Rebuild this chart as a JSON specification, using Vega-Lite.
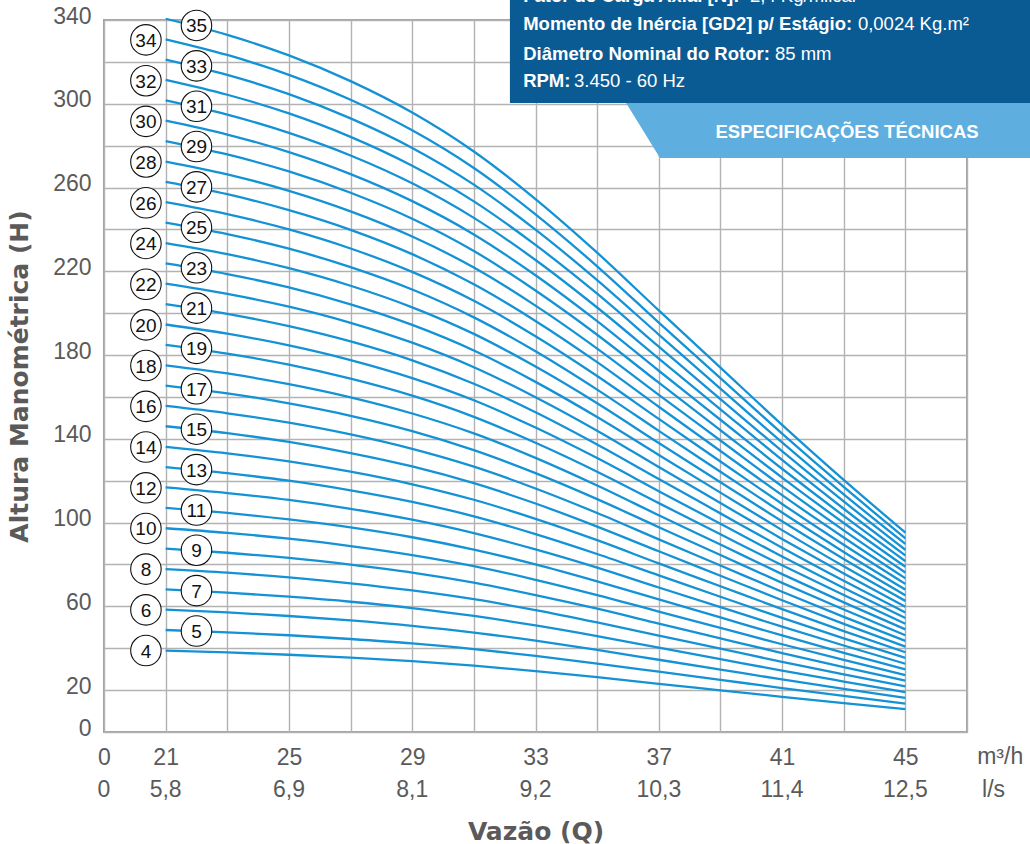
{
  "$schema": "https://vega.github.io/schema/vega-lite/v6.json",
  "width": 863,
  "height": 712,
  "autosize": "none",
  "padding": {"left": 104, "top": 20, "right": 63, "bottom": 112},
  "background": "white",
  "config": {
    "view": {"stroke": "#a3a3a3", "strokeWidth": 2},
    "axis": {"gridColor": "#b2b2b2", "gridWidth": 1.4, "gridOpacity": 1, "domain": false, "ticks": false}
  },
  "layer": [
    {
      "data": {"values": [
        {"s":4,"q":21,"h":38.9},{"s":4,"q":23,"h":38.0},{"s":4,"q":25,"h":36.9},{"s":4,"q":27,"h":35.5},{"s":4,"q":29,"h":33.8},{"s":4,"q":31,"h":31.7},{"s":4,"q":33,"h":29.1},{"s":4,"q":35,"h":26.2},{"s":4,"q":37,"h":23.0},{"s":4,"q":39,"h":19.9},{"s":4,"q":41,"h":16.8},{"s":4,"q":43,"h":13.8},{"s":4,"q":45,"h":10.9},
        {"s":5,"q":21,"h":48.7},{"s":5,"q":23,"h":47.6},{"s":5,"q":25,"h":46.2},{"s":5,"q":27,"h":44.4},{"s":5,"q":29,"h":42.3},{"s":5,"q":31,"h":39.6},{"s":5,"q":33,"h":36.4},{"s":5,"q":35,"h":32.7},{"s":5,"q":37,"h":28.8},{"s":5,"q":39,"h":24.9},{"s":5,"q":41,"h":21.0},{"s":5,"q":43,"h":17.2},{"s":5,"q":45,"h":13.6},
        {"s":6,"q":21,"h":58.4},{"s":6,"q":23,"h":57.1},{"s":6,"q":25,"h":55.4},{"s":6,"q":27,"h":53.3},{"s":6,"q":29,"h":50.7},{"s":6,"q":31,"h":47.5},{"s":6,"q":33,"h":43.6},{"s":6,"q":35,"h":39.2},{"s":6,"q":37,"h":34.5},{"s":6,"q":39,"h":29.8},{"s":6,"q":41,"h":25.1},{"s":6,"q":43,"h":20.6},{"s":6,"q":45,"h":16.3},
        {"s":7,"q":21,"h":68.1},{"s":7,"q":23,"h":66.6},{"s":7,"q":25,"h":64.6},{"s":7,"q":27,"h":62.2},{"s":7,"q":29,"h":59.2},{"s":7,"q":31,"h":55.4},{"s":7,"q":33,"h":50.9},{"s":7,"q":35,"h":45.8},{"s":7,"q":37,"h":40.3},{"s":7,"q":39,"h":34.8},{"s":7,"q":41,"h":29.3},{"s":7,"q":43,"h":24.1},{"s":7,"q":45,"h":19.0},
        {"s":8,"q":21,"h":77.8},{"s":8,"q":23,"h":76.1},{"s":8,"q":25,"h":73.8},{"s":8,"q":27,"h":71.0},{"s":8,"q":29,"h":67.6},{"s":8,"q":31,"h":63.4},{"s":8,"q":33,"h":58.2},{"s":8,"q":35,"h":52.3},{"s":8,"q":37,"h":46.0},{"s":8,"q":39,"h":39.8},{"s":8,"q":41,"h":33.5},{"s":8,"q":43,"h":27.5},{"s":8,"q":45,"h":21.8},
        {"s":9,"q":21,"h":87.6},{"s":9,"q":23,"h":85.6},{"s":9,"q":25,"h":83.1},{"s":9,"q":27,"h":79.9},{"s":9,"q":29,"h":76.1},{"s":9,"q":31,"h":71.3},{"s":9,"q":33,"h":65.4},{"s":9,"q":35,"h":58.9},{"s":9,"q":37,"h":51.8},{"s":9,"q":39,"h":44.7},{"s":9,"q":41,"h":37.7},{"s":9,"q":43,"h":31.0},{"s":9,"q":45,"h":24.5},
        {"s":10,"q":21,"h":97.3},{"s":10,"q":23,"h":95.1},{"s":10,"q":25,"h":92.3},{"s":10,"q":27,"h":88.8},{"s":10,"q":29,"h":84.5},{"s":10,"q":31,"h":79.2},{"s":10,"q":33,"h":72.7},{"s":10,"q":35,"h":65.4},{"s":10,"q":37,"h":57.5},{"s":10,"q":39,"h":49.7},{"s":10,"q":41,"h":41.9},{"s":10,"q":43,"h":34.4},{"s":10,"q":45,"h":27.2},
        {"s":11,"q":21,"h":107.0},{"s":11,"q":23,"h":104.6},{"s":11,"q":25,"h":101.5},{"s":11,"q":27,"h":97.7},{"s":11,"q":29,"h":93.0},{"s":11,"q":31,"h":87.1},{"s":11,"q":33,"h":80.0},{"s":11,"q":35,"h":71.9},{"s":11,"q":37,"h":63.3},{"s":11,"q":39,"h":54.7},{"s":11,"q":41,"h":46.1},{"s":11,"q":43,"h":37.8},{"s":11,"q":45,"h":29.9},
        {"s":12,"q":21,"h":116.8},{"s":12,"q":23,"h":114.1},{"s":12,"q":25,"h":110.8},{"s":12,"q":27,"h":106.6},{"s":12,"q":29,"h":101.4},{"s":12,"q":31,"h":95.0},{"s":12,"q":33,"h":87.2},{"s":12,"q":35,"h":78.5},{"s":12,"q":37,"h":69.0},{"s":12,"q":39,"h":59.6},{"s":12,"q":41,"h":50.3},{"s":12,"q":43,"h":41.3},{"s":12,"q":45,"h":32.6},
        {"s":13,"q":21,"h":126.5},{"s":13,"q":23,"h":123.6},{"s":13,"q":25,"h":120.0},{"s":13,"q":27,"h":115.4},{"s":13,"q":29,"h":109.9},{"s":13,"q":31,"h":103.0},{"s":13,"q":33,"h":94.5},{"s":13,"q":35,"h":85.0},{"s":13,"q":37,"h":74.8},{"s":13,"q":39,"h":64.6},{"s":13,"q":41,"h":54.5},{"s":13,"q":43,"h":44.7},{"s":13,"q":45,"h":35.4},
        {"s":14,"q":21,"h":136.2},{"s":14,"q":23,"h":133.1},{"s":14,"q":25,"h":129.2},{"s":14,"q":27,"h":124.3},{"s":14,"q":29,"h":118.3},{"s":14,"q":31,"h":110.9},{"s":14,"q":33,"h":101.8},{"s":14,"q":35,"h":91.6},{"s":14,"q":37,"h":80.5},{"s":14,"q":39,"h":69.6},{"s":14,"q":41,"h":58.7},{"s":14,"q":43,"h":48.2},{"s":14,"q":45,"h":38.1},
        {"s":15,"q":21,"h":146.0},{"s":15,"q":23,"h":142.7},{"s":15,"q":25,"h":138.5},{"s":15,"q":27,"h":133.2},{"s":15,"q":29,"h":126.8},{"s":15,"q":31,"h":118.8},{"s":15,"q":33,"h":109.1},{"s":15,"q":35,"h":98.1},{"s":15,"q":37,"h":86.3},{"s":15,"q":39,"h":74.6},{"s":15,"q":41,"h":62.9},{"s":15,"q":43,"h":51.6},{"s":15,"q":45,"h":40.8},
        {"s":16,"q":21,"h":155.7},{"s":16,"q":23,"h":152.2},{"s":16,"q":25,"h":147.7},{"s":16,"q":27,"h":142.1},{"s":16,"q":29,"h":135.2},{"s":16,"q":31,"h":126.7},{"s":16,"q":33,"h":116.3},{"s":16,"q":35,"h":104.6},{"s":16,"q":37,"h":92.0},{"s":16,"q":39,"h":79.5},{"s":16,"q":41,"h":67.0},{"s":16,"q":43,"h":55.0},{"s":16,"q":45,"h":43.5},
        {"s":17,"q":21,"h":165.4},{"s":17,"q":23,"h":161.7},{"s":17,"q":25,"h":156.9},{"s":17,"q":27,"h":151.0},{"s":17,"q":29,"h":143.7},{"s":17,"q":31,"h":134.6},{"s":17,"q":33,"h":123.6},{"s":17,"q":35,"h":111.2},{"s":17,"q":37,"h":97.8},{"s":17,"q":39,"h":84.5},{"s":17,"q":41,"h":71.2},{"s":17,"q":43,"h":58.5},{"s":17,"q":45,"h":46.2},
        {"s":18,"q":21,"h":175.1},{"s":18,"q":23,"h":171.2},{"s":18,"q":25,"h":166.1},{"s":18,"q":27,"h":159.8},{"s":18,"q":29,"h":152.1},{"s":18,"q":31,"h":142.6},{"s":18,"q":33,"h":130.9},{"s":18,"q":35,"h":117.7},{"s":18,"q":37,"h":103.5},{"s":18,"q":39,"h":89.5},{"s":18,"q":41,"h":75.4},{"s":18,"q":43,"h":61.9},{"s":18,"q":45,"h":49.0},
        {"s":19,"q":21,"h":184.9},{"s":19,"q":23,"h":180.7},{"s":19,"q":25,"h":175.4},{"s":19,"q":27,"h":168.7},{"s":19,"q":29,"h":160.6},{"s":19,"q":31,"h":150.5},{"s":19,"q":33,"h":138.1},{"s":19,"q":35,"h":124.3},{"s":19,"q":37,"h":109.3},{"s":19,"q":39,"h":94.4},{"s":19,"q":41,"h":79.6},{"s":19,"q":43,"h":65.4},{"s":19,"q":45,"h":51.7},
        {"s":20,"q":21,"h":194.6},{"s":20,"q":23,"h":190.2},{"s":20,"q":25,"h":184.6},{"s":20,"q":27,"h":177.6},{"s":20,"q":29,"h":169.0},{"s":20,"q":31,"h":158.4},{"s":20,"q":33,"h":145.4},{"s":20,"q":35,"h":130.8},{"s":20,"q":37,"h":115.0},{"s":20,"q":39,"h":99.4},{"s":20,"q":41,"h":83.8},{"s":20,"q":43,"h":68.8},{"s":20,"q":45,"h":54.4},
        {"s":21,"q":21,"h":204.3},{"s":21,"q":23,"h":199.7},{"s":21,"q":25,"h":193.8},{"s":21,"q":27,"h":186.5},{"s":21,"q":29,"h":177.5},{"s":21,"q":31,"h":166.3},{"s":21,"q":33,"h":152.7},{"s":21,"q":35,"h":137.3},{"s":21,"q":37,"h":120.8},{"s":21,"q":39,"h":104.4},{"s":21,"q":41,"h":88.0},{"s":21,"q":43,"h":72.2},{"s":21,"q":45,"h":57.1},
        {"s":22,"q":21,"h":214.1},{"s":22,"q":23,"h":209.2},{"s":22,"q":25,"h":203.1},{"s":22,"q":27,"h":195.4},{"s":22,"q":29,"h":185.9},{"s":22,"q":31,"h":174.2},{"s":22,"q":33,"h":159.9},{"s":22,"q":35,"h":143.9},{"s":22,"q":37,"h":126.5},{"s":22,"q":39,"h":109.3},{"s":22,"q":41,"h":92.2},{"s":22,"q":43,"h":75.7},{"s":22,"q":45,"h":59.8},
        {"s":23,"q":21,"h":223.8},{"s":23,"q":23,"h":218.7},{"s":23,"q":25,"h":212.3},{"s":23,"q":27,"h":204.2},{"s":23,"q":29,"h":194.4},{"s":23,"q":31,"h":182.2},{"s":23,"q":33,"h":167.2},{"s":23,"q":35,"h":150.4},{"s":23,"q":37,"h":132.3},{"s":23,"q":39,"h":114.3},{"s":23,"q":41,"h":96.4},{"s":23,"q":43,"h":79.1},{"s":23,"q":45,"h":62.6},
        {"s":24,"q":21,"h":233.5},{"s":24,"q":23,"h":228.2},{"s":24,"q":25,"h":221.5},{"s":24,"q":27,"h":213.1},{"s":24,"q":29,"h":202.8},{"s":24,"q":31,"h":190.1},{"s":24,"q":33,"h":174.5},{"s":24,"q":35,"h":157.0},{"s":24,"q":37,"h":138.0},{"s":24,"q":39,"h":119.3},{"s":24,"q":41,"h":100.6},{"s":24,"q":43,"h":82.6},{"s":24,"q":45,"h":65.3},
        {"s":25,"q":21,"h":243.3},{"s":25,"q":23,"h":237.8},{"s":25,"q":25,"h":230.8},{"s":25,"q":27,"h":222.0},{"s":25,"q":29,"h":211.3},{"s":25,"q":31,"h":198.0},{"s":25,"q":33,"h":181.8},{"s":25,"q":35,"h":163.5},{"s":25,"q":37,"h":143.8},{"s":25,"q":39,"h":124.3},{"s":25,"q":41,"h":104.8},{"s":25,"q":43,"h":86.0},{"s":25,"q":45,"h":68.0},
        {"s":26,"q":21,"h":253.0},{"s":26,"q":23,"h":247.3},{"s":26,"q":25,"h":240.0},{"s":26,"q":27,"h":230.9},{"s":26,"q":29,"h":219.7},{"s":26,"q":31,"h":205.9},{"s":26,"q":33,"h":189.0},{"s":26,"q":35,"h":170.0},{"s":26,"q":37,"h":149.5},{"s":26,"q":39,"h":129.2},{"s":26,"q":41,"h":108.9},{"s":26,"q":43,"h":89.4},{"s":26,"q":45,"h":70.7},
        {"s":27,"q":21,"h":262.7},{"s":27,"q":23,"h":256.8},{"s":27,"q":25,"h":249.2},{"s":27,"q":27,"h":239.8},{"s":27,"q":29,"h":228.2},{"s":27,"q":31,"h":213.8},{"s":27,"q":33,"h":196.3},{"s":27,"q":35,"h":176.6},{"s":27,"q":37,"h":155.3},{"s":27,"q":39,"h":134.2},{"s":27,"q":41,"h":113.1},{"s":27,"q":43,"h":92.9},{"s":27,"q":45,"h":73.4},
        {"s":28,"q":21,"h":272.4},{"s":28,"q":23,"h":266.3},{"s":28,"q":25,"h":258.4},{"s":28,"q":27,"h":248.6},{"s":28,"q":29,"h":236.6},{"s":28,"q":31,"h":221.8},{"s":28,"q":33,"h":203.6},{"s":28,"q":35,"h":183.1},{"s":28,"q":37,"h":161.0},{"s":28,"q":39,"h":139.2},{"s":28,"q":41,"h":117.3},{"s":28,"q":43,"h":96.3},{"s":28,"q":45,"h":76.2},
        {"s":29,"q":21,"h":282.2},{"s":29,"q":23,"h":275.8},{"s":29,"q":25,"h":267.7},{"s":29,"q":27,"h":257.5},{"s":29,"q":29,"h":245.1},{"s":29,"q":31,"h":229.7},{"s":29,"q":33,"h":210.8},{"s":29,"q":35,"h":189.7},{"s":29,"q":37,"h":166.8},{"s":29,"q":39,"h":144.1},{"s":29,"q":41,"h":121.5},{"s":29,"q":43,"h":99.8},{"s":29,"q":45,"h":78.9},
        {"s":30,"q":21,"h":291.9},{"s":30,"q":23,"h":285.3},{"s":30,"q":25,"h":276.9},{"s":30,"q":27,"h":266.4},{"s":30,"q":29,"h":253.5},{"s":30,"q":31,"h":237.6},{"s":30,"q":33,"h":218.1},{"s":30,"q":35,"h":196.2},{"s":30,"q":37,"h":172.5},{"s":30,"q":39,"h":149.1},{"s":30,"q":41,"h":125.7},{"s":30,"q":43,"h":103.2},{"s":30,"q":45,"h":81.6},
        {"s":31,"q":21,"h":301.6},{"s":31,"q":23,"h":294.8},{"s":31,"q":25,"h":286.1},{"s":31,"q":27,"h":275.3},{"s":31,"q":29,"h":262.0},{"s":31,"q":31,"h":245.5},{"s":31,"q":33,"h":225.4},{"s":31,"q":35,"h":202.7},{"s":31,"q":37,"h":178.3},{"s":31,"q":39,"h":154.1},{"s":31,"q":41,"h":129.9},{"s":31,"q":43,"h":106.6},{"s":31,"q":45,"h":84.3},
        {"s":32,"q":21,"h":311.4},{"s":32,"q":23,"h":304.3},{"s":32,"q":25,"h":295.4},{"s":32,"q":27,"h":284.2},{"s":32,"q":29,"h":270.4},{"s":32,"q":31,"h":253.4},{"s":32,"q":33,"h":232.6},{"s":32,"q":35,"h":209.3},{"s":32,"q":37,"h":184.0},{"s":32,"q":39,"h":159.0},{"s":32,"q":41,"h":134.1},{"s":32,"q":43,"h":110.1},{"s":32,"q":45,"h":87.0},
        {"s":33,"q":21,"h":321.1},{"s":33,"q":23,"h":313.8},{"s":33,"q":25,"h":304.6},{"s":33,"q":27,"h":293.0},{"s":33,"q":29,"h":278.9},{"s":33,"q":31,"h":261.4},{"s":33,"q":33,"h":239.9},{"s":33,"q":35,"h":215.8},{"s":33,"q":37,"h":189.8},{"s":33,"q":39,"h":164.0},{"s":33,"q":41,"h":138.3},{"s":33,"q":43,"h":113.5},{"s":33,"q":45,"h":89.8},
        {"s":34,"q":21,"h":330.8},{"s":34,"q":23,"h":323.3},{"s":34,"q":25,"h":313.8},{"s":34,"q":27,"h":301.9},{"s":34,"q":29,"h":287.3},{"s":34,"q":31,"h":269.3},{"s":34,"q":33,"h":247.2},{"s":34,"q":35,"h":222.4},{"s":34,"q":37,"h":195.5},{"s":34,"q":39,"h":169.0},{"s":34,"q":41,"h":142.5},{"s":34,"q":43,"h":117.0},{"s":34,"q":45,"h":92.5},
        {"s":35,"q":21,"h":340.6},{"s":35,"q":23,"h":332.9},{"s":35,"q":25,"h":323.1},{"s":35,"q":27,"h":310.8},{"s":35,"q":29,"h":295.8},{"s":35,"q":31,"h":277.2},{"s":35,"q":33,"h":254.5},{"s":35,"q":35,"h":228.9},{"s":35,"q":37,"h":201.3},{"s":35,"q":39,"h":174.0},{"s":35,"q":41,"h":146.7},{"s":35,"q":43,"h":120.4},{"s":35,"q":45,"h":95.2}
      ]},
      "mark": {"type": "line", "interpolate": "monotone", "color": "#1492d6", "strokeWidth": 2.3, "clip": false},
      "encoding": {
        "x": {"field": "q", "type": "quantitative",
              "scale": {"domain": [19, 47], "nice": false, "zero": false},
              "axis": {"title": "Vazão (Q)", "values": [19,21,23,25,27,29,31,33,35,37,39,41,43,45,47],
                       "labelExpr": "datum.value == 19 ? '0' : ((datum.value >= 21 && datum.value <= 45 && (datum.value - 21) % 4 == 0) ? datum.label : '')",
                       "labelFont": "Liberation Sans", "labelFontSize": 23, "labelColor": "#5a5a5a",
                       "labelBaseline": "alphabetic", "labelPadding": 32, "labelOverlap": false, "labelFlush": false, "labelBound": false,
                       "titleFont": "DejaVu Sans", "titleFontWeight": "bold", "titleFontSize": 25, "titleColor": "#5a5a5a",
                       "titleBaseline": "alphabetic", "titleY": 107}},
        "y": {"field": "h", "type": "quantitative",
              "scale": {"domain": [0, 340], "nice": false, "zero": false},
              "axis": {"title": "Altura Manométrica (H)", "values": [0,20,40,60,80,100,120,140,160,180,200,220,240,260,280,300,320,340],
                       "labelExpr": "(datum.value == 0 || (datum.value - 20) % 40 == 0) ? datum.label : ''",
                       "labelFont": "Liberation Sans", "labelFontSize": 23, "labelColor": "#5a5a5a",
                       "labelPadding": 13, "labelOffset": -4, "labelOverlap": false, "labelFlush": false, "labelBound": false,
                       "titleFont": "DejaVu Sans", "titleFontWeight": "bold", "titleFontSize": 25, "titleColor": "#5a5a5a",
                       "titleBaseline": "alphabetic", "titleX": -77}},
        "detail": {"field": "s", "type": "nominal"}
      }
    },
    {
      "data": {"values": [
        {"n":"4","q":20.36,"h":38.9},{"n":"6","q":20.36,"h":58.3},{"n":"8","q":20.36,"h":77.8},{"n":"10","q":20.36,"h":97.2},
        {"n":"12","q":20.36,"h":116.6},{"n":"14","q":20.36,"h":136.1},{"n":"16","q":20.36,"h":155.5},{"n":"18","q":20.36,"h":175.0},
        {"n":"20","q":20.36,"h":194.4},{"n":"22","q":20.36,"h":213.8},{"n":"24","q":20.36,"h":233.3},{"n":"26","q":20.36,"h":252.7},
        {"n":"28","q":20.36,"h":272.2},{"n":"30","q":20.36,"h":291.6},{"n":"32","q":20.36,"h":311.0},{"n":"34","q":20.36,"h":330.5},
        {"n":"5","q":22.0,"h":48.2},{"n":"7","q":22.0,"h":67.5},{"n":"9","q":22.0,"h":86.8},{"n":"11","q":22.0,"h":106.0},
        {"n":"13","q":22.0,"h":125.3},{"n":"15","q":22.0,"h":144.6},{"n":"17","q":22.0,"h":163.9},{"n":"19","q":22.0,"h":183.2},
        {"n":"21","q":22.0,"h":202.4},{"n":"23","q":22.0,"h":221.7},{"n":"25","q":22.0,"h":241.0},{"n":"27","q":22.0,"h":260.3},
        {"n":"29","q":22.0,"h":279.6},{"n":"31","q":22.0,"h":298.8},{"n":"33","q":22.0,"h":318.1},{"n":"35","q":22.0,"h":337.4}
      ]},
      "layer": [
        {"mark": {"type": "point", "shape": "circle", "filled": true, "fill": "white", "stroke": "#111111", "strokeWidth": 1.1, "size": 930, "opacity": 1},
         "encoding": {"x": {"field": "q", "type": "quantitative"}, "y": {"field": "h", "type": "quantitative"}}},
        {"mark": {"type": "text", "font": "Liberation Sans", "fontSize": 19, "color": "#111111", "align": "center", "baseline": "middle", "dy": 1},
         "encoding": {"x": {"field": "q", "type": "quantitative"}, "y": {"field": "h", "type": "quantitative"}, "text": {"field": "n"}}}
      ]
    },
    {
      "data": {"values": [{"q": 32.17, "q2": 49.3, "h": 300.4, "h2": 353}]},
      "mark": {"type": "rect", "color": "#0a5b94", "clip": false},
      "encoding": {"x": {"field": "q", "type": "quantitative"}, "x2": {"field": "q2"}, "y": {"field": "h", "type": "quantitative"}, "y2": {"field": "h2"}}
    },
    {
      "data": {"values": [{"h": 300.4, "q": 35.94, "q2": 49.3}, {"h": 274.1, "q": 37.04, "q2": 49.3}]},
      "mark": {"type": "area", "orient": "horizontal", "color": "#5eaee0", "opacity": 1, "clip": false},
      "encoding": {"y": {"field": "h", "type": "quantitative"}, "x": {"field": "q", "type": "quantitative"}, "x2": {"field": "q2"}}
    },
    {
      "data": {"values": [
        {"t": "Fator de Carga Axial [N]:", "q": 32.6, "h": 348.6},
        {"t": "Momento de Inércia [GD2] p/ Estágio:", "q": 32.6, "h": 335.2},
        {"t": "Diâmetro Nominal do Rotor:", "q": 32.6, "h": 321.1},
        {"t": "RPM:", "q": 32.6, "h": 308.0}
      ]},
      "mark": {"type": "text", "font": "Liberation Sans", "fontWeight": "bold", "fontSize": 18.5, "color": "white", "align": "left", "baseline": "alphabetic", "clip": false},
      "encoding": {"x": {"field": "q", "type": "quantitative"}, "y": {"field": "h", "type": "quantitative"}, "text": {"field": "t"}}
    },
    {
      "data": {"values": [
        {"t": "2,4 Kg/milcal", "q": 39.96, "h": 348.6},
        {"t": "0,0024 Kg.m²", "q": 43.46, "h": 335.2},
        {"t": "85 mm", "q": 40.77, "h": 321.1},
        {"t": "3.450 - 60 Hz", "q": 34.25, "h": 308.0}
      ]},
      "mark": {"type": "text", "font": "Liberation Sans", "fontSize": 18.5, "color": "white", "align": "left", "baseline": "alphabetic", "clip": false},
      "encoding": {"x": {"field": "q", "type": "quantitative"}, "y": {"field": "h", "type": "quantitative"}, "text": {"field": "t"}}
    },
    {
      "data": {"values": [{"t": "ESPECIFICAÇÕES TÉCNICAS", "q": 43.11, "h": 283.5}]},
      "mark": {"type": "text", "font": "Liberation Sans", "fontWeight": "bold", "fontSize": 18.5, "color": "white", "align": "center", "baseline": "alphabetic", "clip": false},
      "encoding": {"x": {"field": "q", "type": "quantitative"}, "y": {"field": "h", "type": "quantitative"}, "text": {"field": "t"}}
    },
    {
      "data": {"values": [
        {"t": "0", "q": 19, "h": -31}, {"t": "5,8", "q": 21, "h": -31}, {"t": "6,9", "q": 25, "h": -31}, {"t": "8,1", "q": 29, "h": -31},
        {"t": "9,2", "q": 33, "h": -31}, {"t": "10,3", "q": 37, "h": -31}, {"t": "11,4", "q": 41, "h": -31}, {"t": "12,5", "q": 45, "h": -31}
      ]},
      "mark": {"type": "text", "font": "Liberation Sans", "fontSize": 23, "color": "#5a5a5a", "align": "center", "baseline": "alphabetic", "clip": false},
      "encoding": {"x": {"field": "q", "type": "quantitative"}, "y": {"field": "h", "type": "quantitative"}, "text": {"field": "t"}}
    },
    {
      "data": {"values": [{"t": "m³/h", "q": 47.33, "h": -15.5}, {"t": "l/s", "q": 47.49, "h": -31}]},
      "mark": {"type": "text", "font": "Liberation Sans", "fontSize": 23, "color": "#5a5a5a", "align": "left", "baseline": "alphabetic", "clip": false},
      "encoding": {"x": {"field": "q", "type": "quantitative"}, "y": {"field": "h", "type": "quantitative"}, "text": {"field": "t"}}
    }
  ]
}
